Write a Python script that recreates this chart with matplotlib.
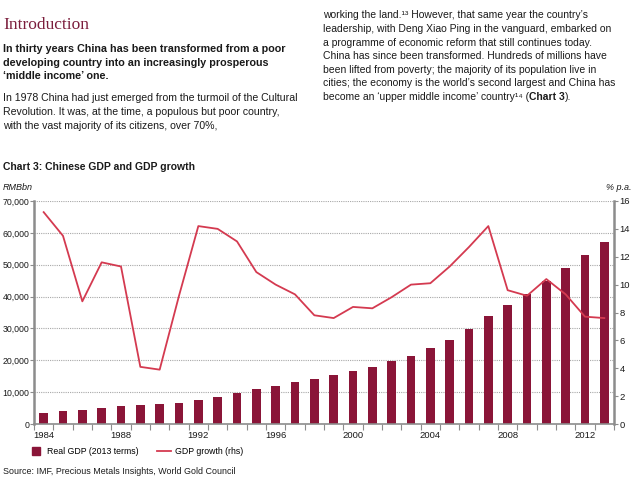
import numpy as np
import matplotlib
matplotlib.use('Agg')
import matplotlib.pyplot as plt
from matplotlib.lines import Line2D
from matplotlib.ticker import FuncFormatter

plt.rcParams['font.family'] = ['Liberation Sans', 'DejaVu Sans']

# data
years = np.arange(1984, 2014)
real_gdp = [3500, 4200, 4500, 5000, 5700, 5900, 6200, 6700, 7600, 8600,
            9800, 11100, 11900, 13200, 14200, 15300, 16500, 18000, 19700, 21500,
            23700, 26300, 29800, 33900, 37300, 40800, 45000, 49100, 53000, 57100]
gdp_growth = [15.2, 13.5, 8.8, 11.6, 11.3, 4.1, 3.9, 9.2, 14.2, 14.0,
              13.1, 10.9, 10.0, 9.3, 7.8, 7.6, 8.4, 8.3, 9.1, 10.0,
              10.1, 11.3, 12.7, 14.2, 9.6, 9.2, 10.4, 9.3, 7.7, 7.6]
year_labels = [1984, 1988, 1992, 1996, 2000, 2004, 2008, 2012]

bar_color = '#8a1538'
line_color = '#d43a50'
axis_color = '#8c8c8c'
text_color = '#1a1a1a'

W, H = 640, 484
fig = plt.figure(figsize=(W / 100, H / 100), dpi=100)
renderer = fig.canvas.get_renderer()

def fy(py):
    return 1 - py / H

def fx(px):
    return px / W

# ---- page text ----
fig.text(fx(3), fy(29), 'Introduction', family='Liberation Serif', fontsize=12.5,
         color='#7b1d3c', va='baseline')

lead = ['In thirty years China has been transformed from a poor',
        'developing country into an increasingly prosperous',
        '\u2018middle income\u2019 one.']
for i, s in enumerate(lead):
    fig.text(fx(3), fy(52 + i * 13.7), s, fontsize=7.75, fontweight='bold',
             color=text_color, va='baseline')

left_body = ['In 1978 China had just emerged from the turmoil of the Cultural',
             'Revolution. It was, at the time, a populous but poor country,',
             'with the vast majority of its citizens, over 70%,']
for i, s in enumerate(left_body):
    fig.text(fx(3), fy(101 + i * 14), s, fontsize=7.6, color=text_color, va='baseline')

right_body = ['working the land.\u00b9\u00b3 However, that same year the country\u2019s',
              'leadership, with Deng Xiao Ping in the vanguard, embarked on',
              'a programme of economic reform that still continues today.',
              'China has since been transformed. Hundreds of millions have',
              'been lifted from poverty; the majority of its population live in',
              'cities; the economy is the world\u2019s second largest and China has',
              'become an \u2018upper middle income\u2019 country\u00b9\u2074 (']
for i, s in enumerate(right_body):
    t = fig.text(fx(323), fy(18.5 + i * 13.6), s, fontsize=7.5, color=text_color,
                 va='baseline')

# last line continues with a bold reference, placed after the measured text
x_end = t.get_window_extent(renderer).x1
base_y = fy(18.5 + (len(right_body) - 1) * 13.6)
t2 = fig.text(x_end / W, base_y, 'Chart 3', fontsize=7.5, fontweight='bold',
              color=text_color, va='baseline')
x_end = t2.get_window_extent(renderer).x1
fig.text(x_end / W, base_y, ').', fontsize=7.5, color=text_color, va='baseline')

fig.text(fx(3), fy(170), 'Chart 3: Chinese GDP and GDP growth', fontsize=7.5,
         fontweight='bold', color=text_color, va='baseline')
fig.text(fx(3), fy(188), 'RMBbn', fontsize=6.5, style='italic', color=text_color, va='center')
fig.text(fx(631), fy(188), '% p.a.', fontsize=6.5, style='italic', color=text_color,
         va='center', ha='right')

# ---- chart ----
ax = fig.add_axes([fx(34), fy(424), fx(614) - fx(34), (424 - 201) / H])
ax.bar(years, real_gdp, width=0.45, color=bar_color, zorder=2)
ax.set_xlim(1983.5, 2013.5)
ax.set_ylim(0, 70000)
ax.set_yticks(np.arange(0, 70001, 10000))
ax.yaxis.set_major_formatter(FuncFormatter(lambda v, p: f'{int(v):,}'))
ax.yaxis.grid(True, linestyle=(0, (1, 1)), color='#a8a8a8', linewidth=0.8, zorder=0)
ax.set_xticks(year_labels)
ax.set_xticks(np.arange(1983.5, 2014, 1), minor=True)
ax.tick_params(axis='x', which='major', length=0, pad=5, labelsize=6.8, labelcolor=text_color)
ax.tick_params(axis='x', which='minor', length=4, width=0.8, color=axis_color)
ax.tick_params(axis='y', length=3, width=0.8, color=axis_color, labelsize=6.3,
               labelcolor=text_color, pad=0.3)
for side in ['top', 'right']:
    ax.spines[side].set_visible(False)
ax.spines['left'].set_color(axis_color)
ax.spines['left'].set_linewidth(1.8)
ax.spines['bottom'].set_color(axis_color)
ax.spines['bottom'].set_linewidth(1.2)

ax2 = ax.twinx()
ax2.plot(years, gdp_growth, color=line_color, linewidth=1.3, zorder=3)
ax2.set_ylim(0, 16)
ax2.set_yticks(np.arange(0, 17, 2))
ax2.tick_params(axis='y', length=3, width=0.8, color=axis_color, labelsize=6.8,
                labelcolor=text_color, pad=1)
for side in ['top', 'left', 'bottom']:
    ax2.spines[side].set_visible(False)
ax2.spines['right'].set_color(axis_color)
ax2.spines['right'].set_linewidth(1.8)

handles = [Line2D([], [], marker='s', linestyle='none', color=bar_color, markersize=6),
           Line2D([], [], color=line_color, linewidth=1.3)]
fig.legend(handles, ['Real GDP (2013 terms)', 'GDP growth (rhs)'], loc='center left',
           bbox_to_anchor=(fx(29), fy(452)), ncol=2, frameon=False, fontsize=6.3,
           handlelength=1.7, handletextpad=0.4, columnspacing=2.0, borderpad=0, borderaxespad=0)

fig.text(fx(3), fy(471), 'Source: IMF, Precious Metals Insights, World Gold Council',
         fontsize=6.4, color=text_color, va='center')

fig.savefig('out.png', dpi=100)
